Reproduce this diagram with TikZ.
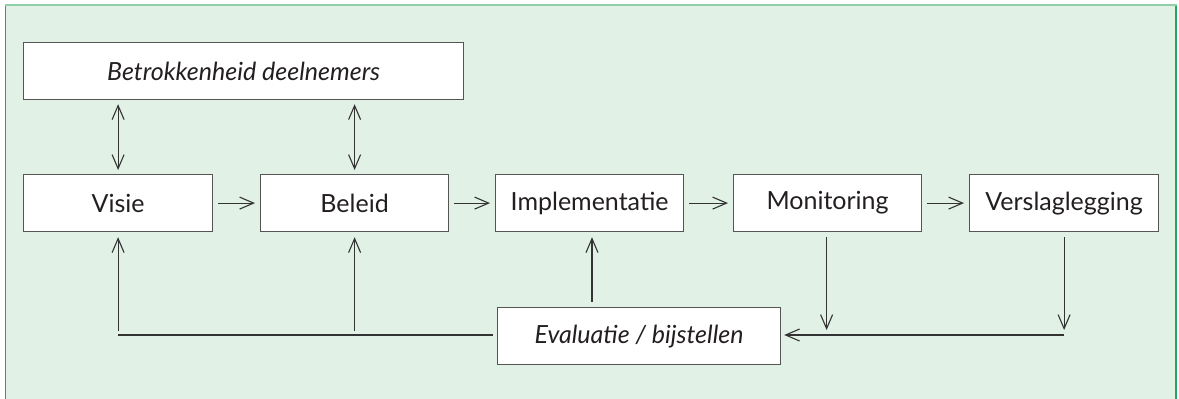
\documentclass[tikz,border=0pt]{standalone}
\usepackage{fontspec}
\setmainfont{Lato}
\usetikzlibrary{arrows.meta}
\definecolor{bgfill}{HTML}{E1F1E6}
\definecolor{bordgreen}{HTML}{22A85A}
\definecolor{topgreen}{HTML}{8FD0A8}
\definecolor{boxline}{HTML}{555555}
\definecolor{arrline}{HTML}{333333}
\definecolor{txt}{HTML}{231F20}
\begin{document}
\begin{tikzpicture}[x=1pt,y=-1pt,
  box/.style={draw=boxline,line width=1.2pt,fill=white,inner sep=0pt,
    font=\fontsize{25}{29}\selectfont,text=txt,anchor=north west},
  conn/.style={draw=arrline,line width=1.1pt},
  tip/.style={conn,-{Straight Barb[length=14pt,width=12pt,line width=1.1pt]}},
  dtip/.style={conn,{Straight Barb[length=14pt,width=12pt,line width=1.1pt]}-{Straight Barb[length=14pt,width=12pt,line width=1.1pt]}}]
\useasboundingbox (0,0) rectangle (1179,399);
\fill[bgfill] (5,5) rectangle (1176,399);
\draw[bordgreen,line width=1.5pt] (5.5,399) -- (5.5,5.5);
\draw[bordgreen,line width=1.5pt] (1176,5.5) -- (1176,399);
\draw[topgreen,line width=1.5pt] (5,5) -- (1176.5,5);

\node[box,minimum width=440pt,minimum height=57pt] (bet) at (23,42) {\itshape Betrokkenheid deelnemers};
\node[box,minimum width=189pt,minimum height=57pt] (vis) at (23,174) {Visie};
\node[box,minimum width=188pt,minimum height=57pt] (bel) at (260,174) {Beleid};
\node[box,minimum width=188pt,minimum height=57pt] (imp) at (495,174) {Implementatie};
\node[box,minimum width=188pt,minimum height=57pt] (mon) at (733,174) {Monitoring};
\node[box,minimum width=189pt,minimum height=57pt] (ver) at (969,174) {Verslaglegging};
\node[box,minimum width=283pt,minimum height=57pt] (eva) at (497,307) {\itshape Evaluatie / bijstellen};

\coordinate (hl) at (118,335);
\coordinate (hr) at (1064,335);
\coordinate (evx) at (592,307);

% horizontal chain
\draw[tip,shorten <=5pt,shorten >=5pt] (vis.east) -- (bel.west);
\draw[tip,shorten <=5pt,shorten >=5pt] (bel.east) -- (imp.west);
\draw[tip,shorten <=5pt,shorten >=5pt] (imp.east) -- (mon.west);
\draw[tip,shorten <=5pt,shorten >=5pt] (mon.east) -- (ver.west);

% double arrows
\draw[dtip,shorten <=4pt,shorten >=4pt] (bet.south -| vis.south) -- (vis.north);
\draw[dtip,shorten <=4pt,shorten >=4pt] (bet.south -| bel.south) -- (bel.north);

% feedback
\draw[conn] (vis.south |- hl) -- ([xshift=-4pt]eva.west |- hl);
\draw[tip,shorten <=4pt,shorten >=5pt] (vis.south |- hl) -- (vis.south);
\draw[tip,shorten <=4pt,shorten >=5pt] (bel.south |- hl) -- (bel.south);
\draw[tip,shorten <=5pt,shorten >=5pt] (evx) -- (evx |- imp.south);
\draw[tip,shorten <=5pt,shorten >=5pt] ([xshift=-1pt]mon.south) -- ([xshift=-1pt]mon.south |- hl);
\draw[tip,shorten <=5pt,shorten >=5pt] (ver.south) -- (ver.south |- hl);
\draw[tip,shorten >=3pt] (hr) -- (eva.east |- hl);
\end{tikzpicture}
\end{document}
